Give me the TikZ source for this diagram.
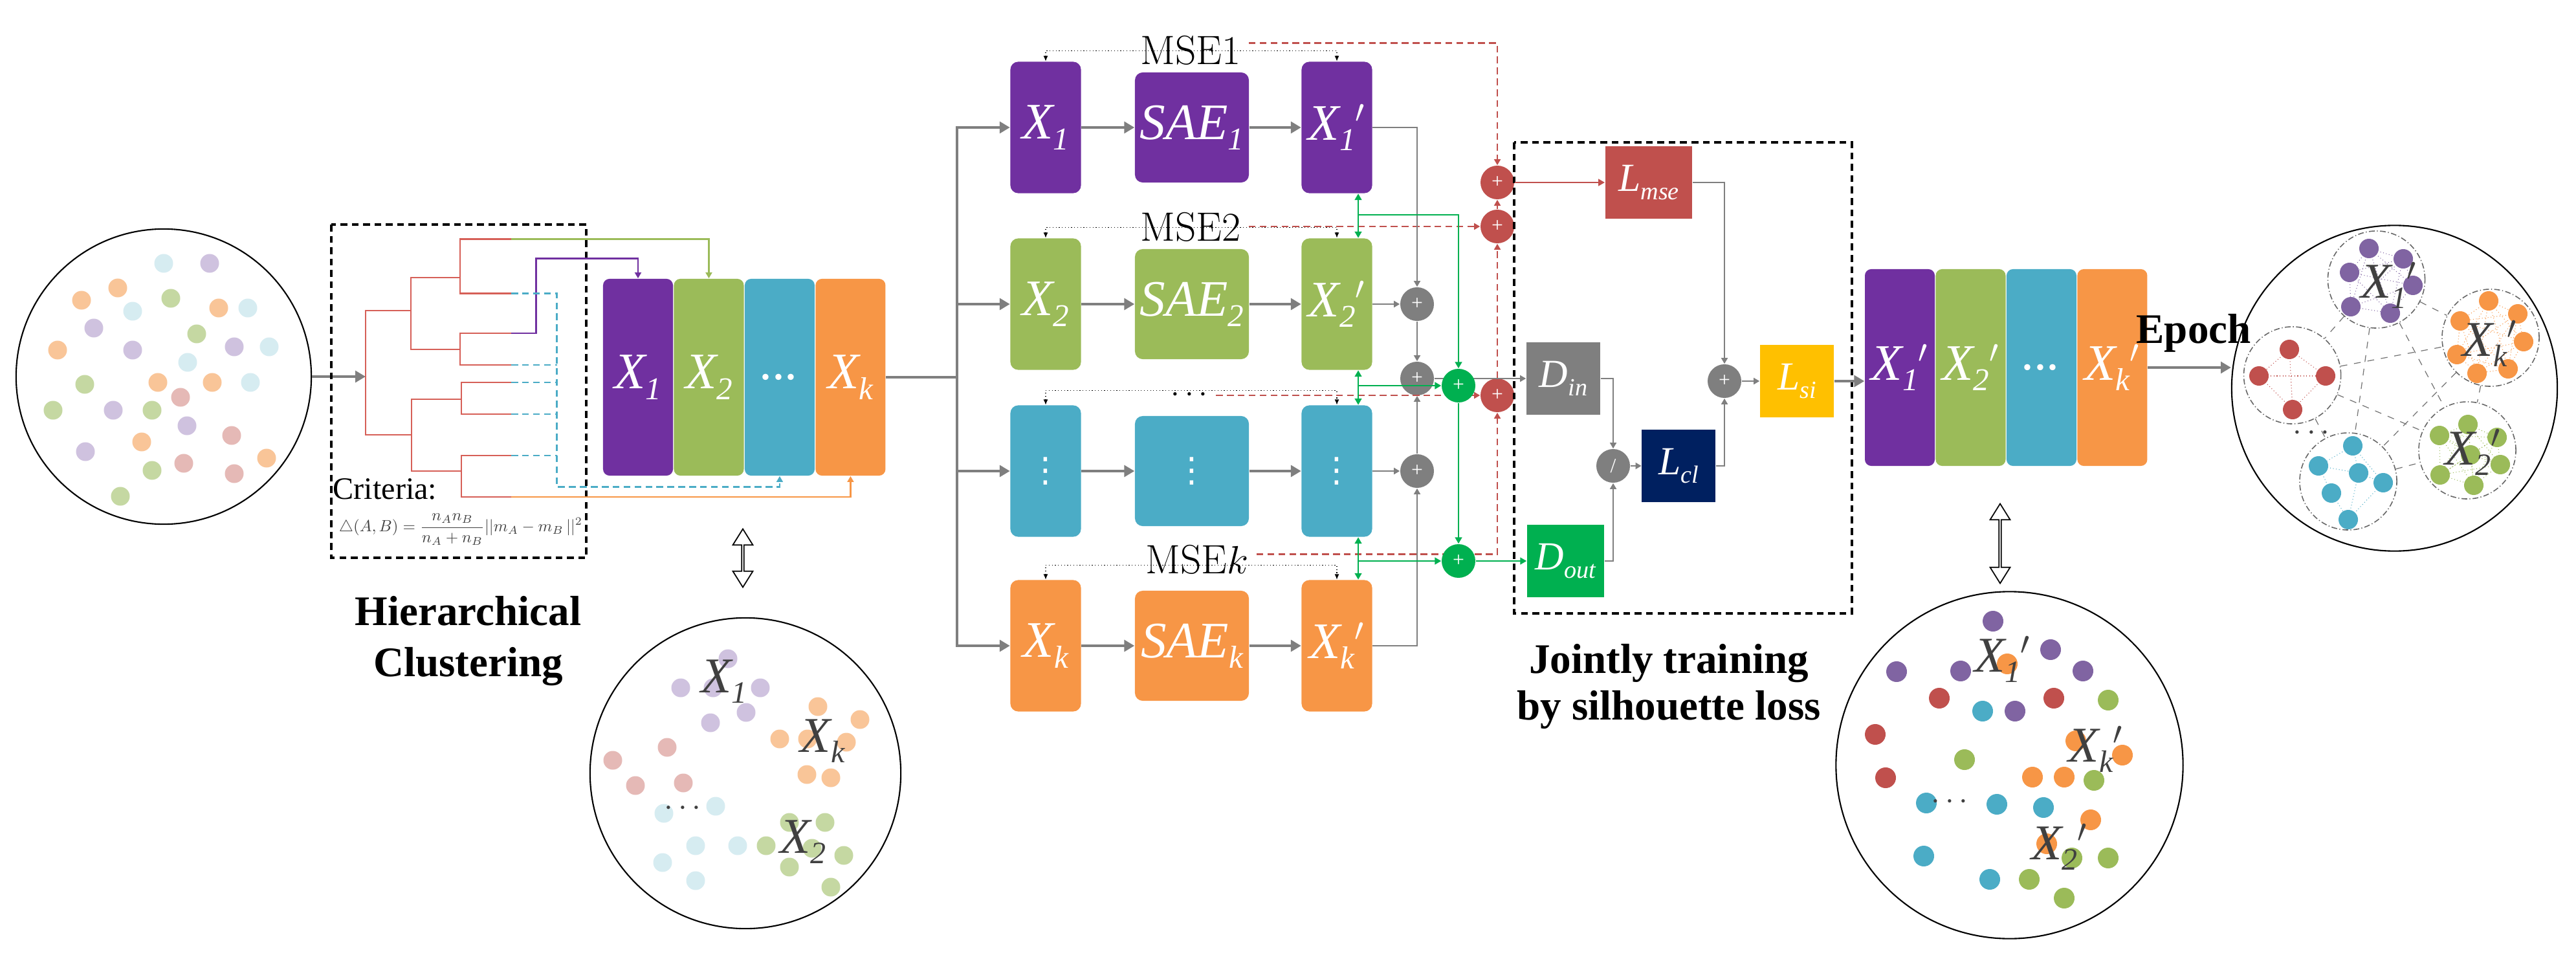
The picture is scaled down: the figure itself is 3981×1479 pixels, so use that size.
\documentclass[tikz,border=0pt]{standalone}
\usepackage{fontspec}
\usepackage{graphicx}
\usetikzlibrary{arrows.meta,positioning,shapes.arrows}
\newfontfamily\tms{Liberation Serif}
\newfontfamily\djv{DejaVu Sans}

\definecolor{purp}{HTML}{7030A0}
\definecolor{grn}{HTML}{9BBB59}
\definecolor{cyn}{HTML}{4BACC6}
\definecolor{orng}{HTML}{F79646}
\definecolor{brick}{HTML}{C0504D}
\definecolor{vgreen}{HTML}{00B050}
\definecolor{navy}{HTML}{002060}
\definecolor{gold}{HTML}{FFC000}
\definecolor{gry}{HTML}{7F7F7F}
\definecolor{lilac}{HTML}{8064A2}
\definecolor{dendro}{HTML}{D65F57}
\definecolor{ink}{HTML}{404040}
% washed-out colours of the raw data
\definecolor{fPu}{HTML}{CFC2DF}
\definecolor{fGr}{HTML}{C5D8A2}
\definecolor{fCy}{HTML}{D6ECF1}
\definecolor{fOr}{HTML}{F9C598}
\definecolor{fRd}{HTML}{E5B9B6}

\newcommand{\lsub}[2]{#1\raisebox{-0.45ex}{\scalebox{0.62}{#2}}}
\newcommand{\blkfont}{\tms\itshape\fontsize{22.5}{24}\selectfont}
\newcommand{\lossfont}{\tms\itshape\fontsize{17.5}{18}\selectfont}
\newcommand{\capfont}{\tms\bfseries\fontsize{18.5}{22}\selectfont}
\newcommand{\vdotsw}{{\djv\fontsize{15}{15}\selectfont ⋮}}
\newcommand{\dotrow}{{\fontsize{10}{10}\selectfont\scalebox{1.4}{$\cdots$}}}

\begin{document}
\begin{tikzpicture}[x=0.01cm,y=-0.01cm,
  blk/.style={rounded corners=0.1cm,minimum width=1.08cm,minimum height=3.04cm,inner sep=0pt,text=white,font=\blkfont},
  ebox/.style={rounded corners=0.12cm,minimum width=1.09cm,minimum height=2.03cm,inner sep=0pt,text=white,font=\blkfont},
  saebox/.style={rounded corners=0.12cm,minimum width=1.76cm,minimum height=1.7cm,inner sep=0pt,text=white,font=\blkfont},
  lossbox/.style={minimum width=1.14cm,minimum height=1.12cm,inner sep=0pt,text=white,font=\lossfont},
  opc/.style={circle,minimum size=0.52cm,inner sep=0pt,text=white,font=\tms\fontsize{9}{9}\selectfont},
  garr/.style={gry,line width=1.2pt,-{Triangle[length=4.5pt,width=5pt]}},
  gsm/.style={gry,line width=0.7pt,-{Triangle[length=2.6pt,width=2.8pt]}},
  glink/.style={vgreen,line width=0.8pt,-{Triangle[length=2.8pt,width=3pt]}},
  gboth/.style={vgreen,line width=0.8pt,{Triangle[length=2.8pt,width=3pt]}-{Triangle[length=2.8pt,width=3pt]}},
  rdash/.style={brick,line width=0.75pt,dash pattern=on 3pt off 1.8pt,-{Triangle[length=2.6pt,width=2.8pt]}},
  dotl/.style={line width=0.35pt,densely dotted,{Latex[length=2.4pt,width=2pt]}-{Latex[length=2.4pt,width=2pt]}},
  leaf/.style={line width=0.75pt,-{Triangle[length=2.6pt,width=2.8pt]}},
  dend/.style={dendro,line width=0.75pt},
  frame/.style={line width=0.9pt,dash pattern=on 3pt off 2pt},
  captxt/.style={font=\capfont,anchor=base},
  msel/.style={font=\fontsize{18}{18}\selectfont,anchor=base},
  pool/.style={circle,draw,line width=0.6pt},
  inkl/.style={text=ink,font=\tms\itshape\fontsize{22}{22}\selectfont},
  clus/.style={circle,draw=black!60,line width=0.45pt,dash pattern=on 2.5pt off 1pt on 0.4pt off 1pt,minimum size=1.5cm},
  link/.style={black!55,line width=0.35pt,dashed},
  web/.style={line width=0.3pt,densely dotted},
  hollow/.style={double arrow,draw,fill=white,line width=0.5pt,minimum width=0.31cm,double arrow head extend=0.07cm,double arrow tip angle=64,inner sep=0pt,rotate=90}
]
\useasboundingbox (0,0) rectangle (3981,1479);

% raw data
\node[pool,minimum size=4.56cm] (pool) at (253,582) {};
\foreach \x/\y/\c in {253/407/fCy,324/407/fPu,182/445/fOr,126/464/fOr,264/461/fGr,205/481/fCy,338/476/fOr,383/476/fCy,145/507/fPu,304/516/fGr,89/541/fOr,205/541/fPu,362/536/fPu,416/536/fCy,290/560/fCy,131/594/fGr,244/591/fOr,328/591/fOr,387/591/fCy,279/614/fRd,82/634/fGr,175/634/fPu,235/634/fGr,289/658/fPu,358/673/fRd,219/683/fOr,132/698/fPu,235/727/fGr,284/716/fRd,362/732/fRd,412/708/fOr,186/767/fGr}
  \fill[\c] (\x,\y) circle (0.145cm);
\coordinate (root) at (565,582);
\draw[garr] (pool.east) -- (root);

% dendrogram
\draw[frame] (512,347) rectangle (906,862);
\foreach \n/\y in {1/369.5,2/453.7,3/515,4/564,5/591,6/640,7/704,8/768}
  \coordinate (lf\n) at (790,\y);
\draw[dend] (lf1) -| (711,453.7) -- (lf2);
\draw[dend] (lf3) -| (711,564) -- (lf4);
\draw[dend] (lf5) -| (713,640) -- (lf6);
\draw[dend] (lf7) -| (713,768) -- (lf8);
\draw[dend] (711,429) -| (635,540) -- (711,540);
\draw[dend] (713,617) -| (636,728) -- (713,728);
\draw[dend] (635,480) -| (565,672) -- (636,672);
\node[anchor=base west,inner sep=0pt,font=\tms\fontsize{13.7}{14}\selectfont] (crit) at (514,771) {Criteria:};
\node[text=ink,inner sep=0pt] (delta) at (712,818) {\resizebox{3.76cm}{!}{$\displaystyle\triangle(A,B)=\frac{n_An_B}{n_A+n_B}||m_A-m_B\,||^2$}};
\node[captxt] (hier1) at (723.5,966) {Hierarchical};
\node[captxt] (hier2) at (723.5,1045) {Clustering};

% clusters found
\node[blk,fill=purp] (h1) at (986,583) {\lsub{X}{1}};
\node[blk,fill=grn,right=0pt of h1] (h2) {\lsub{X}{2}};
\node[blk,fill=cyn,right=0pt of h2] (hd) {...};
\node[blk,fill=orng,right=0pt of hd] (hk) {\lsub{X}{k}};
\draw[leaf,grn] (lf1) -| (h2.north);
\draw[leaf,purp] (lf3) -- ++(38.5,0) |- ([yshift=0.31cm]h1.north) -- (h1.north);
\coordinate (cj) at (860.6,752.6);
\draw[leaf,cyn,dash pattern=on 3pt off 1.8pt] (lf2) -| (cj) -| (hd.south);
\foreach \l in {lf4,lf5,lf6,lf7}
  \draw[cyn,line width=0.75pt,dash pattern=on 3pt off 1.8pt] (\l) -- (\l -| cj);
\draw[leaf,orng] (lf8) -| (hk.south);

\node[hollow,minimum height=0.9cm] (dbl1) at (1148,862.5) {};
\node[pool,minimum size=4.8cm] (mix1) at (1152,1195) {};
\foreach \x/\y/\c in {1125/1018/fPu,1052/1063/fPu,1102/1063/fPu,1175/1063/fPu,1153/1101/fPu,1098/1117/fPu,1264/1092/fOr,1329/1112/fOr,1205/1142/fOr,1248/1142/fOr,1308/1147/fOr,1247/1197/fOr,1284/1202/fOr,1031/1155/fRd,947/1175/fRd,982/1214/fRd,1056/1210/fRd,1026/1257/fCy,1106/1246/fCy,1075/1307/fCy,1140/1307/fCy,1024/1333/fCy,1075/1361/fCy,1220/1271/fGr,1275/1271/fGr,1184/1307/fGr,1255/1311/fGr,1304/1322/fGr,1220/1340/fGr,1284/1371/fGr}
  \fill[\c] (\x,\y) circle (0.145cm);
\node[inkl] (m1a) at (1119,1053) {\lsub{X}{1}};
\node[inkl] (m1k) at (1271,1145) {\lsub{X}{k}};
\node[inkl] (m1b) at (1241,1301) {\lsub{X}{2}};
\node[text=ink] (m1d) at (1055,1250) {\dotrow};

% one SAE per cluster
\coordinate (br) at (1479,583);
\draw[gry,line width=1.2pt] (hk.east) -- (br);
\foreach \r/\y/\c/\s in {1/197/purp/1,2/470/grn/2,4/998/orng/k}{
  \node[ebox,fill=\c] (in\r) at (1616,\y) {\lsub{X}{\s}};
  \node[saebox,fill=\c] (sae\r) at (1842,\y) {\lsub{SAE}{\s}};
  \node[ebox,fill=\c] (out\r) at (2066,\y) {\lsub{X}{\s}$'$};
}
\node[ebox,fill=cyn] (in3) at (1616,728) {\vdotsw};
\node[saebox,fill=cyn] (sae3) at (1842,728) {\vdotsw};
\node[ebox,fill=cyn] (out3) at (2066,728) {\vdotsw};
\foreach \r/\d in {1/16,2/16,3/22,4/22}{
  \draw[garr] (br) |- (in\r.west);
  \draw[garr] (in\r) -- (sae\r);
  \draw[garr] (sae\r) -- (out\r);
  \draw[dotl] (in\r.north) -- ++(0,-\d) -| (out\r.north);
}
\node[msel] (mse1) at (1840,100) {MSE1};
\node[msel] (mse2) at (1840,373) {MSE2};
\node (mse3) at (1838,611) {\dotrow};
\node[msel] (msek) at (1850,886) {MSE$k$};

% losses
\node[opc,fill=brick] (rs1) at (2314,282) {+};
\node[opc,fill=brick] (rs2) at (2314,350) {+};
\node[opc,fill=brick] (rs3) at (2314,611) {+};
\node[opc,fill=gry] (ga) at (2190,470) {+};
\node[opc,fill=gry] (gb) at (2190,585) {+};
\node[opc,fill=gry] (gc) at (2190,728) {+};
\draw[frame] (2340,220) rectangle (2862,948);
\node[lossbox,fill=brick,minimum width=1.345cm] (lmse) at (2548,282) {\lsub{L}{mse}};
\node[lossbox,fill=gry] (din) at (2416,585) {\lsub{D}{in}};
\node[lossbox,fill=vgreen,minimum width=1.19cm] (dout) at (2419.5,867) {\lsub{D}{out}};
\node[lossbox,fill=navy] (lcl) at (2594.4,720) {\lsub{L}{cl}};
\node[lossbox,fill=gold] (lsi) at (2777,589) {\lsub{L}{si}};
\node[opc,fill=gry] (dv) at (2493,720) {/};
\node[opc,fill=gry] (sm) at (2665,589) {+};

\draw[rdash] ([yshift=0.12cm]mse1.east) -| (rs1.north);
\draw[rdash] (rs2.west -| mse2.east) -- (rs2.west);
\draw[rdash] (rs3.west -| mse3.east) -- (rs3.west);
\draw[rdash] ([yshift=0.08cm]msek.east) -| (rs3.south);
\draw[rdash] (rs3) -- (rs2);
\draw[rdash] (rs2) -- (rs1);
\draw[brick,line width=0.8pt,-{Triangle[length=2.8pt,width=3pt]}] (rs1) -- (lmse);
\draw[gsm] (out1.east) -| (ga.north);
\draw[gsm] (out2) -- (ga);
\draw[gsm] (ga) -- (gb);
\draw[gsm] (out3) -- (gc);
\draw[gsm] (gc) -- (gb);
\draw[gsm] (out4.east) -| (gc.south);
\draw[gsm] (gb) -- (din);

\node[opc,fill=vgreen] (g1) at (2254,596) {+};
\node[opc,fill=vgreen] (g2) at (2254,867) {+};
\draw[gboth] ([xshift=0.33cm]out1.south) -- ([xshift=0.33cm]out2.north);
\draw[gboth] ([xshift=0.33cm]out2.south) -- ([xshift=0.33cm]out3.north);
\draw[gboth] ([xshift=0.33cm]out3.south) -- ([xshift=0.33cm]out4.north);
\coordinate (j1) at (2099,332);
\coordinate (j2) at (2099,596);
\coordinate (j3) at (2099,867);
\draw[glink] (j1) -| (g1.north);
\draw[glink] (j2) -- (g1.west);
\draw[glink] (j3) -- (g2.west);
\draw[glink] (g1) -- (g2);
\draw[glink] (g2) -- (dout);

\draw[gsm] (din.east) -| (dv.north);
\draw[gsm] (dout.east) -| (dv.south);
\draw[gsm] (dv) -- (lcl);
\draw[gsm] (lcl.east) -| (sm.south);
\draw[gsm] (lmse.east) -| (sm.north);
\draw[gsm] (sm) -- (lsi);
\node[captxt] (joint1) at (2579,1040) {Jointly training};
\node[captxt] (joint2) at (2579,1112) {by silhouette loss};

% refined clusters
\node[blk,fill=purp] (p1) at (2936,568) {\lsub{X}{1}$'$};
\node[blk,fill=grn,right=0pt of p1] (p2) {\lsub{X}{2}$'$};
\node[blk,fill=cyn,right=0pt of p2] (pd) {...};
\node[blk,fill=orng,right=0pt of pd] (pk) {\lsub{X}{k}$'$};
\draw[garr] (lsi.east) -- (lsi.east -| p1.west);

\node[hollow,minimum height=1.23cm] (dbl2) at (3091,840) {};
\node[pool,minimum size=5.36cm] (mix2) at (3105.5,1182.5) {};
\foreach \x/\y/\c in {3080/960/lilac,3169/1004/lilac,2931/1038/lilac,3030/1037/lilac,3219/1037/lilac,3114/1099/lilac,2997/1079/brick,3174/1079/brick,2898/1135/brick,2914/1202/brick,3064/1099/cyn,2977/1241/cyn,3086/1243/cyn,3158/1248/cyn,2973/1323/cyn,3075/1359/cyn,3258/1082/grn,3036/1174/grn,3236/1206/grn,3258/1326/grn,3202/1326/grn,3136/1359/grn,3190/1388/grn,3102/1026/orng,3208/1145/orng,3280/1167/orng,3141/1201/orng,3190/1201/orng,3231/1267/orng,3163/1304/orng}
  \fill[\c] (\x,\y) circle (0.16cm);
\node[inkl] (m2a) at (3095,1019) {\lsub{X}{1}$'$};
\node[inkl] (m2k) at (3239,1158) {\lsub{X}{k}$'$};
\node[inkl] (m2b) at (3183,1309) {\lsub{X}{2}$'$};
\node[text=ink] (m2d) at (3013,1240) {\dotrow};

% after one epoch
\node[pool,minimum size=5.03cm] (ep) at (3700.5,600) {};
\node[captxt] (epoch) at (3390,530) {Epoch};
\draw[garr] (pk.east) -- (pk.east -| ep.west);
\node[clus] (cP) at (3672.5,432) {};
\node[clus] (cK) at (3849,522) {};
\node[clus] (cR) at (3542.6,580) {};
\node[clus] (cC) at (3629,744) {};
\node[clus] (cG) at (3813,696) {};
\foreach \a/\b in {cP/cR,cP/cK,cP/cC,cP/cG,cR/cK,cR/cG,cK/cC,cK/cG,cC/cG,cR/cC}
  \draw[link] (\a) -- (\b);
\foreach \x/\y [count=\i] in {3661/384,3714/400,3631/421,3729/441,3633/474,3694/484}
  \coordinate (pu\i) at (\x,\y);
\foreach \x/\y [count=\i] in {3846/465,3891/485,3802/496,3900/528,3797/548,3876/570,3828/577}
  \coordinate (or\i) at (\x,\y);
\foreach \x/\y [count=\i] in {3538/540,3491/581,3594/581,3543/633}
  \coordinate (rd\i) at (\x,\y);
\foreach \x/\y [count=\i] in {3636/689,3583/720,3645/731,3683/746,3603/762,3629/803}
  \coordinate (cy\i) at (\x,\y);
\foreach \x/\y [count=\i] in {3814/656,3770/673,3859/676,3818/703,3864/718,3771/734,3823/750}
  \coordinate (gr\i) at (\x,\y);
\foreach \nm/\col/\n in {pu/lilac/6,or/orng/7,rd/brick/4,gr/grn/7}
  \foreach \i in {1,...,\n}
    \foreach \j in {\i,...,\n}
      \draw[web,\col] (\nm\i) -- (\nm\j);
\foreach \a/\b in {1/2,1/3,2/3,2/5,3/4,3/6,5/6,4/6,1/4}
  \draw[web,cyn] (cy\a) -- (cy\b);
\foreach \nm/\col/\n in {pu/lilac/6,or/orng/7,rd/brick/4,cy/cyn/6,gr/grn/7}
  \foreach \i in {1,...,\n}
    \fill[\col] (\nm\i) circle (0.15cm);
\node[inkl] (epa) at (3692,441) {\lsub{X}{1}$'$};
\node[inkl] (epk) at (3848,531) {\lsub{X}{k}$'$};
\node[inkl] (epb) at (3822,699) {\lsub{X}{2}$'$};
\node[text=ink] (epd) at (3572,670) {\dotrow};
\end{tikzpicture}
\end{document}
